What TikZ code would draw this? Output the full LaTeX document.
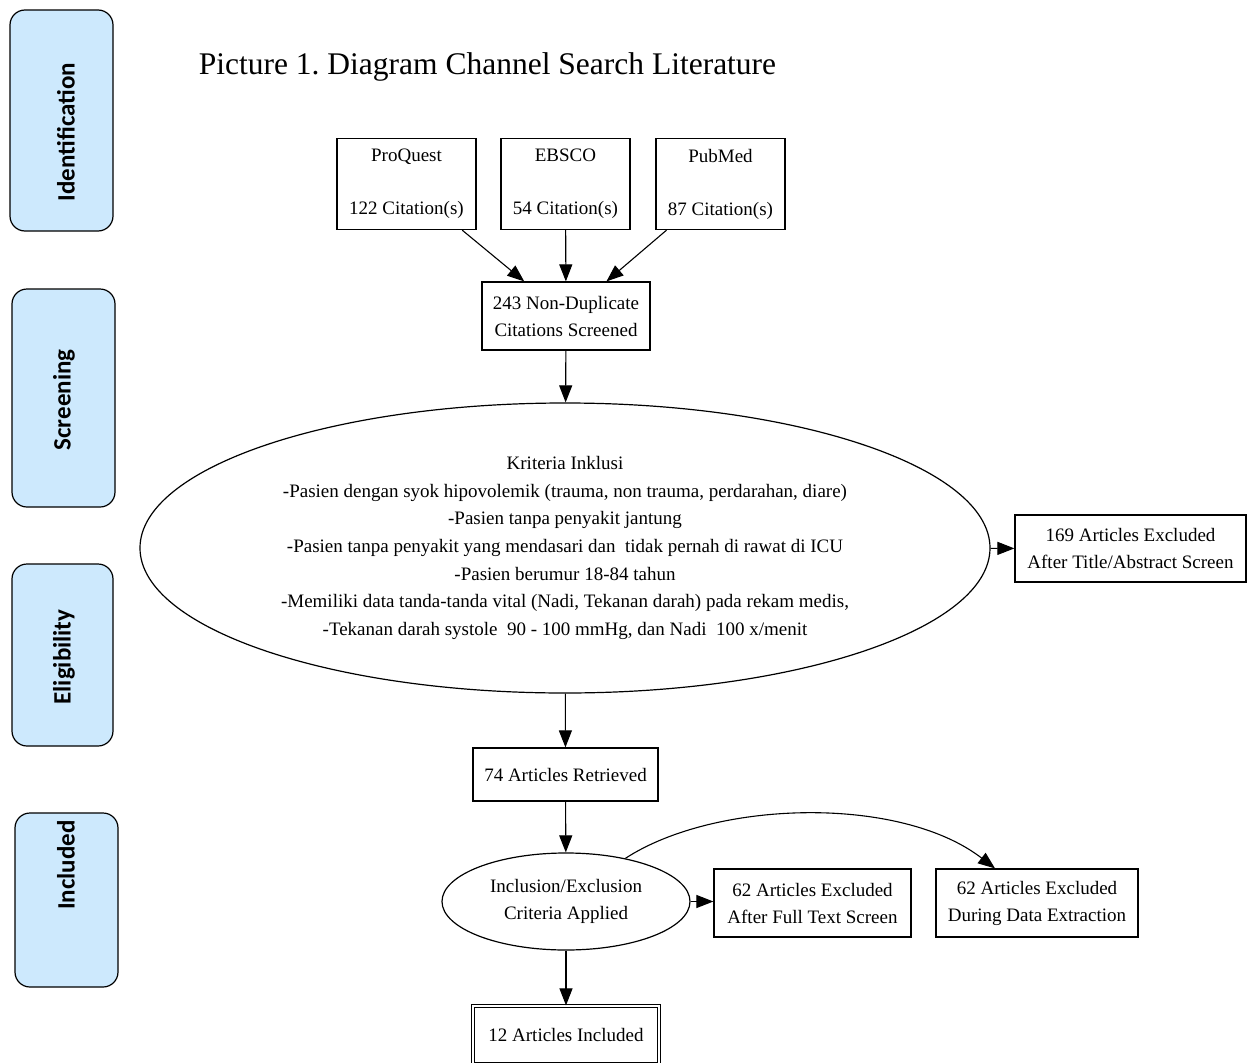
\documentclass[tikz,border=0pt]{standalone}
\usepackage{fontspec}
\setmainfont{Liberation Serif}
\newfontfamily\stagefont{Carlito}
\usetikzlibrary{arrows.meta,shapes.geometric}

\definecolor{stagefill}{RGB}{205,233,253}

\tikzset{
  box/.style={draw, line width=1.2pt, rectangle, align=center, inner sep=2pt,
    font=\fontsize{19}{27}\selectfont},
  oval/.style={draw, line width=1.2pt, ellipse, align=center, inner sep=0pt,
    font=\fontsize{19}{27.7}\selectfont},
  stage/.style={draw, line width=1.2pt, rounded corners=15pt, fill=stagefill},
  stagetext/.style={rotate=90, font=\stagefont\bfseries\fontsize{25}{30}\selectfont},
  arr/.style={-{Triangle[length=17pt,width=13pt]}, line width=1.1pt}
}

\begin{document}
\begin{tikzpicture}[x=1pt,y=-1pt]
  \clip (0,0) rectangle (1254,1063);
  \fill[white] (0,0) rectangle (1254,1063);

  % stages on the left
  \node[stage, minimum width=103pt, minimum height=221pt] (sident) at (61.5,120.5) {};
  \node[stagetext] (tident) at (66,132) {Identification};
  \node[stage, minimum width=103pt, minimum height=218pt] (sscreen) at (63.5,398) {};
  \node[stagetext] (tscreen) at (64,400) {Screening};
  \node[stage, minimum width=101pt, minimum height=182pt] (selig) at (62.5,655) {};
  \node[stagetext] (telig) at (64,657) {Eligibility};
  \node[stage, minimum width=103pt, minimum height=174pt] (sincl) at (66.5,900) {};
  \node[stagetext] (tincl) at (66,865) {Included};

  % title
  \node[font=\fontsize{31.5}{36}\selectfont] (title) at (487.5,67) {Picture 1.\ Diagram Channel Search Literature};

  % databases
  \node[box, minimum width=139pt, minimum height=91pt] (pq) at (406.5,184) {ProQuest\\[26pt]122 Citation(s)};
  \node[box, minimum width=129pt, minimum height=91pt] (eb) at (565.5,184) {EBSCO\\[26pt]54 Citation(s)};
  \node[box, minimum width=129pt, minimum height=91pt] (pm) at (720.5,184) {PubMed\\[26pt]87 Citation(s)};

  % screening
  \node[box, minimum width=168pt, minimum height=68pt] (nondup) at (566,316) {243 Non-Duplicate\\Citations Screened};
  \node[oval, minimum width=850pt, minimum height=290pt] (krit) at (565,548) {Kriteria Inklusi\\
    -Pasien dengan syok hipovolemik (trauma, non trauma, perdarahan, diare)\\
    -Pasien tanpa penyakit jantung\\
    -Pasien tanpa penyakit yang mendasari dan\ \ tidak pernah di rawat di ICU\\
    -Pasien berumur 18-84 tahun\\
    -Memiliki data tanda-tanda vital (Nadi, Tekanan darah) pada rekam medis,\\
    -Tekanan darah systole\ \ 90 - 100 mmHg, dan Nadi\ \ 100 x/menit};
  \node[box, minimum width=231pt, minimum height=67pt] (excla) at (1130.5,548.5) {169 Articles Excluded\\After Title/Abstract Screen};

  % eligibility
  \node[box, minimum width=185pt, minimum height=53pt] (retr) at (565.5,774.5) {74 Articles Retrieved};
  \node[oval, minimum width=248pt, minimum height=97pt] (crit) at (566,901.5) {Inclusion/Exclusion\\Criteria Applied};
  \node[box, minimum width=197pt, minimum height=68pt] (exclb) at (812.5,903) {62 Articles Excluded\\After Full Text Screen};
  \node[box, minimum width=202pt, minimum height=68pt] (exclc) at (1037,903) {62 Articles Excluded\\During Data Extraction};

  % included
  \node[box, double, double distance=2.5pt, minimum width=186pt, minimum height=58pt] (final) at (566,1035) {12 Articles Included};

  % arrows
  \draw[arr] (pq) -- (nondup);
  \draw[arr] (eb) -- (nondup);
  \draw[arr] (pm) -- (nondup);
  \draw[arr] (nondup) -- (krit);
  \draw[arr] (krit) -- (excla);
  \draw[arr] (krit) -- (retr);
  \draw[arr] (retr) -- (crit);
  \draw[arr] (crit) -- (crit -| exclb.west);
  \draw[arr] (crit.36) .. controls (715,800) and (900,795) .. ([xshift=-42pt]exclc.north);
  \draw[arr] (crit) -- (final);
\end{tikzpicture}
\end{document}
